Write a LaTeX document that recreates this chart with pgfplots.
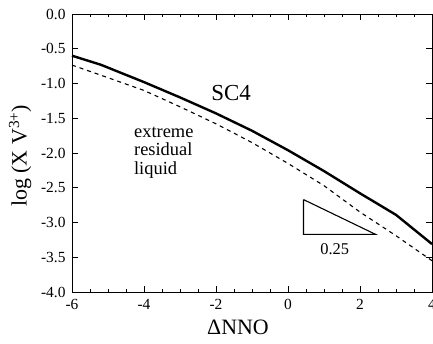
\documentclass[border=0pt]{standalone}
\usepackage{fontspec}
\setmainfont{Liberation Serif}
\usepackage{pgfplots}
\pgfplotsset{compat=1.18}
\begin{document}
\begin{tikzpicture}
\path[use as bounding box] (-72bp,-52bp) rectangle (361bp,292bp);
\begin{axis}[
  scale only axis, width=360bp, height=278bp,
  xmin=-6, xmax=4, ymin=-4, ymax=0,
  xtick={-6,-4,-2,0,2,4},
  xticklabels={-6,-4,-2,0,2,4},
  minor x tick num=3,
  ytick={-4,-3.5,-3,-2.5,-2,-1.5,-1,-0.5,0},
  yticklabels={-4.0,-3.5,-3.0,-2.5,-2.0,-1.5,-1.0,-0.5,0.0},
  tick align=inside,
  major tick length=6bp, minor tick length=3.5bp,
  axis line style={line width=0.9bp},
  every tick/.style={black, line width=0.8bp},
  ticklabel style={font=\fontsize{15.5}{17}\selectfont},
  xticklabel style={yshift=-4bp},
  yticklabel style={xshift=-3bp},
  xlabel={ΔNNO},
  ylabel={log (X V\textsuperscript{3+})},
  label style={font=\fontsize{22}{26}\selectfont, inner sep=0pt},
  xlabel style={at={(axis description cs:0.461,0)}, anchor=north, yshift=-28bp},
  ylabel style={at={(axis description cs:-0.144,0.49)}, anchor=center},
  clip=false,
]
% upper model curve
\addplot[black, line width=2.4bp] coordinates {
  (-6,-0.60) (-5.2,-0.73) (-4,-0.98) (-3,-1.20) (-2,-1.43) (-1,-1.68)
  (0,-1.96) (1,-2.26) (2,-2.58) (3,-2.89) (4,-3.31)};
% lower model curve
\addplot[black, line width=1.1bp, dash pattern=on 4bp off 4bp] coordinates {
  (-6,-0.735) (-5.2,-0.88) (-4,-1.10) (-3,-1.335) (-2,-1.58) (-1,-1.85)
  (0,-2.15) (1,-2.47) (2,-2.85) (3,-3.19) (4,-3.55)};
% slope triangle
\addplot[black, line width=1.1bp, line join=miter] coordinates {
  (0.43,-2.67) (0.43,-3.17) (2.43,-3.17) (0.43,-2.67)};
\node[anchor=base, font=\fontsize{23}{26}\selectfont, inner sep=0pt] at (axis cs:-1.58,-1.24) {SC4};
\node[anchor=base west, font=\fontsize{18.5}{20}\selectfont, inner sep=0pt] at (axis cs:-4.28,-1.777) {extreme};
\node[anchor=base west, font=\fontsize{18.5}{20}\selectfont, inner sep=0pt] at (axis cs:-4.28,-2.04) {residual};
\node[anchor=base west, font=\fontsize{18.5}{20}\selectfont, inner sep=0pt] at (axis cs:-4.28,-2.305) {liquid};
\node[anchor=base, font=\fontsize{16.5}{18}\selectfont, inner sep=0pt] at (axis cs:1.30,-3.458) {0.25};
\end{axis}
\end{tikzpicture}
\end{document}
